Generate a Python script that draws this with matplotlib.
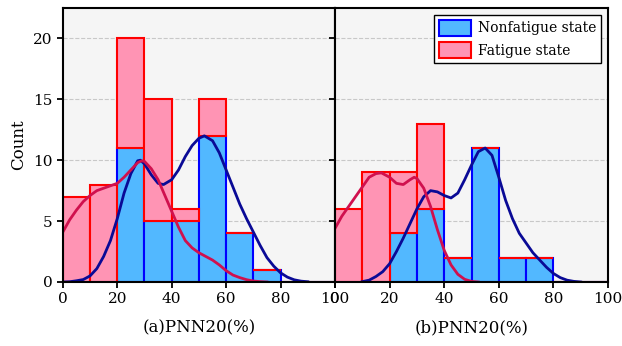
import numpy as np
import matplotlib
matplotlib.use('Agg')
import matplotlib.pyplot as plt
from matplotlib.patches import Patch

# histogram bins (PNN20 %)
bin_left = [0, 10, 20, 30, 40, 50, 60, 70, 80, 90]

# panel (a) counts
a_nonfatigue = [0, 0, 11, 5, 5, 12, 4, 1, 0, 0]
a_fatigue = [7, 8, 9, 10, 1, 3, 0, 0, 0, 0]

# panel (b) counts
b_nonfatigue = [0, 0, 4, 6, 2, 11, 2, 2, 0, 0]
b_fatigue = [6, 9, 5, 7, 0, 0, 0, 0, 0, 0]

# kde curves (scaled to counts)
a_fat_kde_x = [0, 2.5, 5, 7.5, 10, 12.5, 15, 17.5, 20, 22.5, 25, 27.5, 29, 30, 32.5, 35, 37.5,
               40, 42.5, 45, 47.5, 50, 52.5, 55, 57.5, 60, 62.5, 65, 67.5, 70, 72.5, 75]
a_fat_kde_y = [4.1, 5.1, 5.9, 6.6, 7.1, 7.5, 7.7, 7.9, 8.1, 8.6, 9.2, 9.8, 9.95, 9.9, 9.3, 8.4, 7.1,
               5.8, 4.5, 3.4, 2.8, 2.4, 2.1, 1.8, 1.4, 0.93, 0.57, 0.36, 0.19, 0.08, 0.03, 0.0]
a_non_kde_x = [0, 2.5, 5, 7.5, 10, 12.5, 15, 17.5, 20, 22.5, 25, 27.5, 28.5, 30, 32.5, 35, 37, 40,
               42.5, 45, 47.5, 50, 52, 55, 57.5, 60, 62.5, 65, 67.5, 70, 72.5, 75, 77.5, 80,
               82.5, 85, 87.5, 90]
a_non_kde_y = [0, 0.02, 0.1, 0.2, 0.5, 1.1, 2.1, 3.4, 5.2, 7.3, 8.9, 9.95, 10.0, 9.7, 8.8, 8.1, 8.0, 8.4,
               9.2, 10.3, 11.2, 11.8, 12.0, 11.6, 10.6, 9.2, 7.8, 6.4, 5.2, 4.1, 3.0, 2.0, 1.3, 0.75,
               0.4, 0.18, 0.07, 0.02]

b_fat_kde_x = [0, 2.5, 5, 7.5, 10, 12.5, 15, 17, 20, 22.5, 25, 27.5, 29, 30, 32.5, 35, 37.5,
               40, 42.5, 45, 47.5, 50, 52.5]
b_fat_kde_y = [4.4, 5.4, 6.2, 7.0, 7.8, 8.6, 8.9, 8.96, 8.6, 8.1, 8.0, 8.4, 8.6, 8.5, 7.7, 6.2, 4.3,
               2.6, 1.4, 0.63, 0.22, 0.05, 0]
b_non_kde_x = [10, 12.5, 15, 17.5, 20, 22.5, 25, 27.5, 30, 32.5, 35, 37.5, 40, 42.5, 45, 47.5, 50,
               52.5, 55, 57.5, 60, 62.5, 65, 67.5, 70, 72.5, 75, 77.5, 80, 82.5, 85, 87.5, 90]
b_non_kde_y = [0.03, 0.15, 0.45, 0.85, 1.5, 2.5, 3.6, 4.8, 6.0, 7.0, 7.5, 7.4, 7.1, 6.9, 7.3, 8.4, 9.6,
               10.7, 11.0, 10.4, 8.6, 6.7, 5.2, 4.0, 3.2, 2.4, 1.8, 1.2, 0.7, 0.36, 0.15, 0.05, 0]

blue_fill = '#52b8ff'
blue_edge = '#0000ff'
pink_fill = '#ff94b4'
pink_edge = '#ff0000'
navy = '#0a0a96'
crimson = '#d0104e'

plt.rcParams['font.family'] = 'DejaVu Serif'
plt.rcParams['font.size'] = 11

fig = plt.figure(figsize=(6.22, 3.46), dpi=100)
ax1 = fig.add_axes([0.101, 0.185, 0.4376, 0.792])
ax2 = fig.add_axes([0.5386, 0.185, 0.4389, 0.792], sharey=ax1)


def draw(ax, non, fat, nk_x, nk_y, fk_x, fk_y, label):
    ax.set_facecolor('#f5f5f5')
    ax.grid(axis='y', linestyle='--', color='#c8c8c8', linewidth=0.8)
    ax.set_axisbelow(True)
    ax.bar(bin_left, non, width=10, align='edge', color=blue_fill,
           edgecolor=blue_edge, linewidth=1.5)
    ax.bar(bin_left, fat, width=10, align='edge', bottom=non, color=pink_fill,
           edgecolor=pink_edge, linewidth=1.5)
    ax.plot(nk_x, nk_y, color=navy, linewidth=2, solid_joinstyle='round')
    ax.plot(fk_x, fk_y, color=crimson, linewidth=2, solid_joinstyle='round')
    ax.set_xlim(0, 100)
    ax.set_ylim(0, 22.5)
    ax.set_xticks([0, 20, 40, 60, 80, 100])
    ax.set_yticks([0, 5, 10, 15, 20])
    ax.set_xlabel(label, labelpad=9, fontsize=12)
    ax.tick_params(direction='out', length=4, width=1.3, labelsize=11)
    for s in ax.spines.values():
        s.set_linewidth(1.5)
        s.set_color('black')


draw(ax1, a_nonfatigue, a_fatigue, a_non_kde_x, a_non_kde_y,
     a_fat_kde_x, a_fat_kde_y, '(a)PNN20(%)')
draw(ax2, b_nonfatigue, b_fatigue, b_non_kde_x, b_non_kde_y,
     b_fat_kde_x, b_fat_kde_y, '(b)PNN20(%)')

ax1.set_ylabel('Count', fontsize=12)
plt.setp(ax2.get_yticklabels(), visible=False)

handles = [Patch(facecolor=blue_fill, edgecolor=blue_edge, linewidth=1.5, label='Nonfatigue state'),
           Patch(facecolor=pink_fill, edgecolor=pink_edge, linewidth=1.5, label='Fatigue state')]
leg = ax2.legend(handles=handles, loc='upper right', fancybox=False, framealpha=1,
                 edgecolor='black', fontsize=10, borderpad=0.35, labelspacing=0.45,
                 handlelength=2.3, handleheight=1.4, handletextpad=0.5, borderaxespad=0.5)
leg.get_frame().set_linewidth(1.0)

fig.savefig('out.png', dpi=100)
